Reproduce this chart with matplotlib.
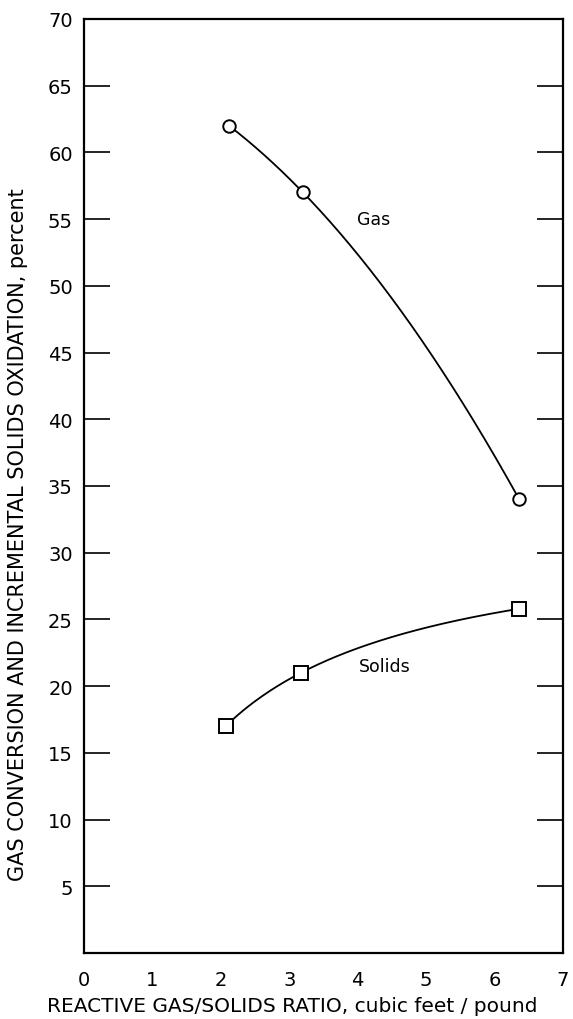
import numpy as np
import matplotlib
matplotlib.use("Agg")
import matplotlib.pyplot as plt

# values
gas_x = [2.12, 3.2, 6.36]
gas_y = [62.0, 57.0, 34.0]
solids_x = [2.07, 3.17, 6.36]
solids_y = [17.0, 21.0, 25.8]
yticks = list(range(5, 71, 5))
xticks = list(range(0, 8))

plt.rcParams['font.family'] = ['DejaVu Sans']

fig = plt.figure(figsize=(5.73, 10.2), dpi=100)
ax = fig.add_axes([0.1466, 0.0647, 0.836, 0.9157])

def smooth(x, y, logx=False):
    # smooth curve through the three points, like the hand drawn one
    x = np.asarray(x)
    xs = np.linspace(x.min(), x.max(), 200)
    if logx:
        c = np.polyfit(np.log(x), y, 2)
        return xs, np.polyval(c, np.log(xs))
    c = np.polyfit(x, y, 2)
    return xs, np.polyval(c, xs)

xs, ys = smooth(gas_x, gas_y)
ax.plot(xs, ys, color='black', lw=1.3, zorder=2)
ax.plot(gas_x, gas_y, 'o', ms=9, mfc='white', mec='black', mew=1.4, zorder=3)

xs, ys = smooth(solids_x, solids_y, logx=True)
ax.plot(xs, ys, color='black', lw=1.3, zorder=2)
ax.plot(solids_x, solids_y, 's', ms=9.5, mfc='white', mec='black', mew=1.4, zorder=3)

ax.text(4.23, 55, 'Gas', fontsize=12.5, ha='center', va='center')
ax.text(4.39, 21.5, 'Solids', fontsize=12.5, ha='center', va='center')

ax.set_xlim(0, 7)
ax.set_ylim(0, 70)
ax.set_xticks(xticks)
ax.set_yticks(yticks)
ax.tick_params(axis='y', which='both', direction='in', length=19, width=1.2,
               left=True, right=True, labelsize=14, pad=-4)
ax.tick_params(axis='x', length=0, labelsize=14, pad=12)
ax.yaxis.get_major_ticks()[-1].tick1line.set_visible(False)
ax.yaxis.get_major_ticks()[-1].tick2line.set_visible(False)
for lbl in ax.get_yticklabels():
    lbl.set_x(-0.035)
for s in ax.spines.values():
    s.set_linewidth(1.6)

ax.set_xlabel('REACTIVE GAS/SOLIDS RATIO, cubic feet / pound', fontsize=14.5)
ax.xaxis.set_label_coords(0.434, -0.046)
ax.set_ylabel('GAS CONVERSION AND INCREMENTAL SOLIDS OXIDATION, percent',
              fontsize=15)
ax.yaxis.set_label_coords(-0.116, 0.449)

fig.savefig('out.png', dpi=100)
